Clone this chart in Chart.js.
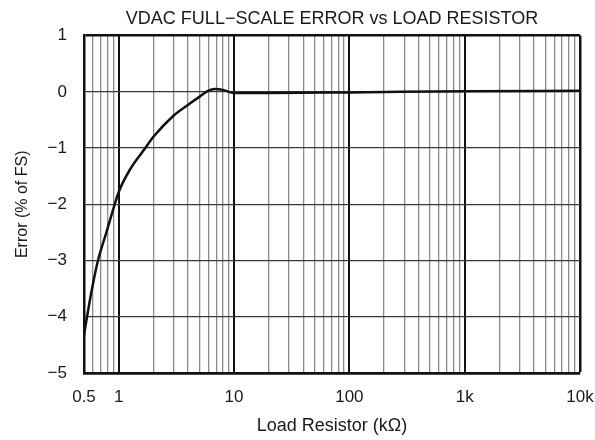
<!DOCTYPE html>
<html>
<head>
<meta charset="utf-8">
<script src="https://cdn.jsdelivr.net/npm/chart.js@4.4.1/dist/chart.umd.min.js"></script>
<style>
  html, body { margin: 0; padding: 0; background: #fff; }
  #wrap { width: 595px; height: 440px; }
</style>
</head>
<body>
<div id="wrap"><canvas id="fsErr"></canvas></div>
<script>
// load resistor (kOhm) and full-scale error (% of FS)
var loadRes  = [0.5, 0.531, 0.587, 0.661, 0.782, 0.923, 1, 1.245, 1.7, 2, 3, 4, 5, 6, 6.8, 8, 9, 10, 20, 100, 1000, 10000];
var errorPct = [-4.33, -4.0, -3.5, -3.0, -2.5, -2.0, -1.78, -1.39, -1.0, -0.8, -0.42, -0.23, -0.09, 0.02, 0.05, 0.035, 0.0, -0.02, -0.02, -0.01, 0.01, 0.02];

var xTickVals   = [0.5, 1, 10, 100, 1000, 10000];
var xTickLabels = ['0.5', '1', '10', '100', '1k', '10k'];
var yTickVals   = [1, 0, -1, -2, -3, -4, -5];
var yTickLabels = ['1', '0', '\u22121', '\u22122', '\u22123', '\u22124', '\u22125'];

// 1..9 gridlines in every decade, starting at 0.5
var xGrid = [];
for (var d = 0.1; d <= 1000; d *= 10) {
  for (var m = 1; m <= 9; m++) {
    var v = +(m * d).toPrecision(3);
    if (v >= 0.5) xGrid.push(v);
  }
}
xGrid.push(10000);

function isDecade(v) {
  var l = Math.log10(v);
  return Math.abs(l - Math.round(l)) < 1e-6;
}

var font = "'Liberation Sans', Arial, sans-serif";
Chart.defaults.font.family = font;
Chart.defaults.color = '#1a1a1a';

new Chart('fsErr', {
  type: 'line',
  data: {
    datasets: [{
      data: loadRes.map(function (x, i) { return { x: x, y: errorPct[i] }; }),
      borderColor: '#111',
      borderWidth: 2.5,
      pointRadius: 0,
      fill: false,
      cubicInterpolationMode: 'monotone'
    }]
  },
  options: {
    responsive: true,
    maintainAspectRatio: false,
    animation: false,
    layout: { padding: { left: 0, right: 0, top: 0, bottom: 0 } },
    plugins: {
      legend: { display: false },
      tooltip: { enabled: false },
      title: {
        display: true,
        fullSize: false,
        text: 'VDAC FULL\u2212SCALE ERROR vs LOAD RESISTOR',
        font: { size: 18, weight: 'normal' },
        color: '#1a1a1a',
        padding: { top: 8, bottom: 6 }
      }
    },
    scales: {
      x: {
        type: 'logarithmic',
        min: 0.5,
        max: 10000,
        afterBuildTicks: function (scale) {
          scale.ticks = xGrid.map(function (v) { return { value: v }; });
        },
        afterFit: function (scale) {
          scale.height = 67;
          // only leave room for half of the "10k" label
          scale.paddingRight = 15;
        },
        ticks: {
          autoSkip: false,
          maxRotation: 0,
          padding: 14,
          font: { size: 17 },
          callback: function (value) {
            var k = xTickVals.indexOf(+(+value).toPrecision(3));
            return k >= 0 ? xTickLabels[k] : '';
          }
        },
        grid: {
          drawTicks: false,
          color: function (ctx) {
            var v = ctx.tick && ctx.tick.value;
            return isDecade(v) ? '#111' : '#8a8a8a';
          },
          lineWidth: function (ctx) {
            var v = ctx.tick && ctx.tick.value;
            if (v === 10000) return 2.5;
            return isDecade(v) ? 2 : 1.3;
          }
        },
        border: { display: true, color: '#111', width: 2.5 },
        title: {
          display: true,
          text: 'Load Resistor (k\u03a9)',
          font: { size: 18 },
          padding: { top: 0, bottom: 3 }
        }
      },
      y: {
        min: -5,
        max: 1,
        afterBuildTicks: function (scale) {
          scale.ticks = yTickVals.map(function (v) { return { value: v }; });
        },
        afterFit: function (scale) { scale.width = 84; },
        ticks: {
          padding: 17,
          font: { size: 17 },
          callback: function (value) {
            var k = yTickVals.indexOf(value);
            return k >= 0 ? yTickLabels[k] : '';
          }
        },
        grid: {
          drawTicks: false,
          color: function (ctx) {
            var v = ctx.tick && ctx.tick.value;
            return (v === 1 || v === -5) ? '#111' : '#3a3a3a';
          },
          lineWidth: function (ctx) {
            var v = ctx.tick && ctx.tick.value;
            return (v === 1 || v === -5) ? 2.5 : 1.2;
          }
        },
        border: { display: true, color: '#111', width: 2.5 },
        title: {
          display: true,
          text: 'Error (% of FS)',
          font: { size: 16 },
          padding: { top: 13, bottom: 0 }
        }
      }
    }
  }
});
</script>
</body>
</html>
